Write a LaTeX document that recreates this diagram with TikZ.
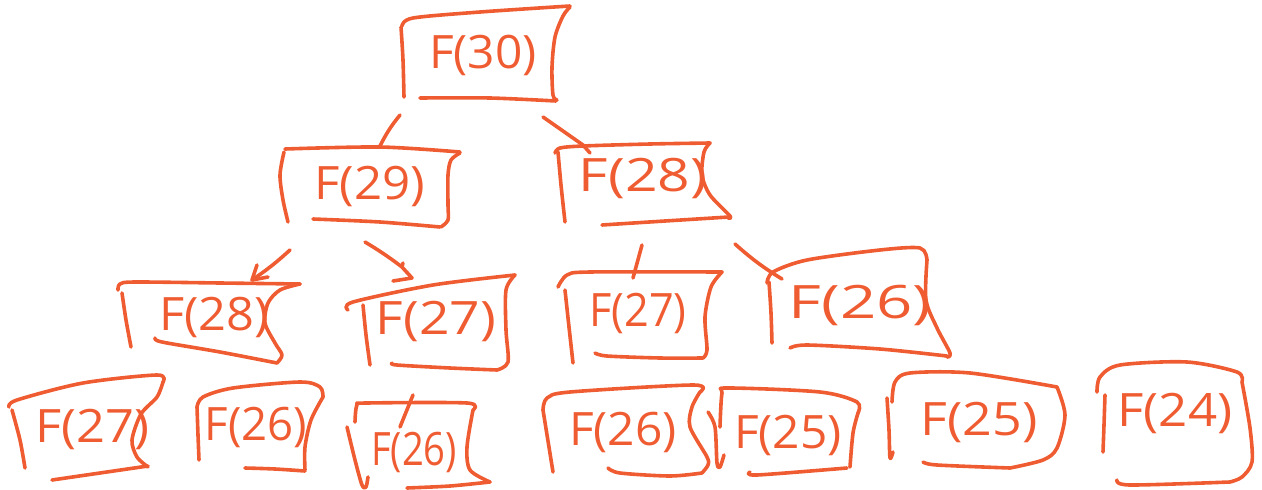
\documentclass[tikz,border=0pt]{standalone}
\usepackage{fontspec}
\usepackage{graphicx}
\setmainfont{Open Sans}
\definecolor{ink}{RGB}{240,92,50}
\begin{document}
\begin{tikzpicture}[x=1pt,y=-1pt,
  pen/.style={draw=ink,line width=3.6pt,line cap=round,line join=round},
  lbl/.style={text=ink,font=\fontsize{46}{54}\selectfont,inner sep=0pt}]
\useasboundingbox (0,0) rectangle (1262,490);

% ---------- labels ----------
\node[lbl] (t1)  at (483,55)  {\scalebox{1.04}[1]{F(30)}};
\node[lbl] (t2a) at (370,186) {\scalebox{1.07}[1]{F(29)}};
\node[lbl] (t2b) at (643,178) {\scalebox{1.24}[1]{F(28)}};
\node[lbl] (t3a) at (214,317) {\scalebox{1.06}[1]{F(28)}};
\node[lbl] (t3b) at (436,321) {\scalebox{1.16}[1]{F(27)}};
\node[lbl] (t3c) at (638,313) {\scalebox{0.94}[1]{F(27)}};
\node[lbl] (t3d) at (860,305) {\scalebox{1.38}[1]{F(26)}};
\node[lbl] (t4a) at (92,429)  {\scalebox{1.10}[1]{F(27)}};
\node[lbl] (t4b) at (256,427) {\scalebox{0.99}[1]{F(26)}};
\node[lbl] (t4c) at (414,452) {\scalebox{0.83}[1]{F(26)}};
\node[lbl] (t4d) at (623,432) {\scalebox{1.04}[1]{F(26)}};
\node[lbl] (t4e) at (788,435) {\scalebox{1.04}[1]{F(25)}};
\node[lbl] (t4f) at (979,422) {\scalebox{1.13}[1]{F(25)}};
\node[lbl] (t4g) at (1175,413){\scalebox{1.11}[1]{F(24)}};

% ---------- boxes, one pen stroke per side ----------
% F(30)
\draw[pen] plot[smooth] coordinates {(401,27) (403,60) (404,97)};
\draw[pen] plot[smooth] coordinates {(402,26) (413,18) (480,12) (570,6)};
\draw[pen] plot[smooth] coordinates {(570,7) (563,16) (555,37) (552,67) (553,95) (557,100)};
\draw[pen] plot[smooth] coordinates {(420,98) (490,98) (556,101)};
% F(29)
\draw[pen] plot[smooth] coordinates {(284,152) (280,175) (283,200) (288,222)};
\draw[pen] plot[smooth] coordinates {(285,149) (380,147) (460,152)};
\draw[pen] plot[smooth] coordinates {(460,153) (451,160) (448,175) (448,205) (448,220) (441,227)};
\draw[pen] plot[smooth] coordinates {(313,219) (380,222) (440,227)};
% F(28)
\draw[pen] plot[smooth] coordinates {(558,152) (561,185) (565,222)};
\draw[pen] plot[smooth] coordinates {(555,153) (560,148) (583,146) (650,144) (710,143)};
\draw[pen] plot[smooth] coordinates {(710,143) (704,152) (702,175) (710,195) (730,216) (728,218)};
\draw[pen] plot[smooth] coordinates {(602,225) (665,221) (729,217)};
% F(28), second row
\draw[pen] plot[smooth] coordinates {(118,290) (120,284) (135,282) (220,283) (300,284)};
\draw[pen] plot[smooth] coordinates {(122,293) (126,320) (131,347)};
\draw[pen] plot[smooth] coordinates {(300,284) (280,290) (268,303) (265,323) (275,343) (282,355) (277,363)};
\draw[pen] plot[smooth] coordinates {(155,338) (162,342) (220,352) (277,363)};
% F(27), second row
\draw[pen] plot[smooth] coordinates {(348,310) (353,302) (433,285) (515,275)};
\draw[pen] plot[smooth] coordinates {(363,305) (366,335) (370,365)};
\draw[pen] plot[smooth] coordinates {(515,275) (506,290) (506,330) (508,362) (497,370)};
\draw[pen] plot[smooth] coordinates {(392,363) (397,365) (450,368) (497,370)};
% F(27), second row
\draw[pen] plot[smooth] coordinates {(558,287) (567,275) (590,272) (722,272)};
\draw[pen] plot[smooth] coordinates {(565,290) (569,327) (573,363)};
\draw[pen] plot[smooth] coordinates {(722,272) (711,287) (705,317) (707,350) (703,358)};
\draw[pen] plot[smooth] coordinates {(595,353) (607,356) (660,358) (703,358)};
% F(26), second row
\draw[pen] plot[smooth] coordinates {(767,283) (773,272) (807,260) (880,250) (920,248) (927,260)};
\draw[pen] plot[smooth] coordinates {(769,282) (771,313) (772,343)};
\draw[pen] plot[smooth] coordinates {(927,260) (926,300) (937,328) (950,353) (947,357)};
\draw[pen] plot[smooth] coordinates {(790,348) (807,345) (880,349) (947,356)};
% F(27), bottom row
\draw[pen] plot[smooth] coordinates {(9,407) (17,400) (83,383) (157,375) (163,382)};
\draw[pen] plot[smooth] coordinates {(163,382) (157,397) (141,414) (132,440) (137,457) (148,467)};
\draw[pen] plot[smooth] coordinates {(52,480) (100,473) (148,466)};
\draw[pen] plot[smooth] coordinates {(12,410) (20,440) (25,468)};
% F(26), bottom row
\draw[pen] plot[smooth] coordinates {(197,407) (203,397) (233,388) (300,382) (320,387) (323,397)};
\draw[pen] plot[smooth] coordinates {(323,397) (311,420) (305,447) (305,470)};
\draw[pen] plot[smooth] coordinates {(245,468) (275,469) (305,471)};
\draw[pen] plot[smooth] coordinates {(197,407) (198,435) (199,460)};
% F(26), bottom row
\draw[pen] plot[smooth] coordinates {(355,422) (357,405) (367,403) (467,403) (473,410)};
\draw[pen] plot[smooth] coordinates {(473,410) (467,447) (470,470) (490,482)};
\draw[pen] plot[smooth] coordinates {(407,488) (450,486) (490,482)};
\draw[pen] plot[smooth] coordinates {(347,427) (355,460) (362,485) (366,487) (368,477)};
% F(26), bottom row
\draw[pen] plot[smooth] coordinates {(543,410) (547,398) (570,392) (693,385) (700,392)};
\draw[pen] plot[smooth] coordinates {(700,392) (692,407) (690,427) (707,457) (708,465) (702,473)};
\draw[pen] plot[smooth] coordinates {(608,468) (620,473) (670,476) (702,473)};
\draw[pen] plot[smooth] coordinates {(543,410) (548,441) (553,472)};
% F(25), bottom row
\draw[pen] plot[smooth] coordinates {(708,412) (715,427) (717,463) (720,467) (724,455)};
\draw[pen] plot[smooth] coordinates {(720,427) (722,393) (728,388) (820,392) (857,402) (858,413)};
\draw[pen] plot[smooth] coordinates {(858,413) (853,433) (850,467)};
\draw[pen] plot[smooth] coordinates {(750,472) (757,475) (847,468)};
% F(25), bottom row
\draw[pen] plot[smooth] coordinates {(887,398) (889,430) (890,458) (893,452)};
\draw[pen] plot[smooth] coordinates {(892,402) (895,382) (910,373) (970,373) (1057,387)};
\draw[pen] plot[smooth] coordinates {(1057,387) (1065,415) (1057,448) (1043,460) (1010,468)};
\draw[pen] plot[smooth] coordinates {(923,462) (937,465) (1010,468)};
% F(24), bottom row
\draw[pen] plot[smooth] coordinates {(1105,395) (1104,425) (1103,452)};
\draw[pen] plot[smooth] coordinates {(1097,392) (1100,377) (1120,365) (1187,362) (1237,372) (1242,382)};
\draw[pen] plot[smooth] coordinates {(1242,382) (1250,428) (1252,462) (1242,477) (1230,482)};
\draw[pen] plot[smooth] coordinates {(1117,480) (1130,485) (1230,482)};

% ---------- connectors ----------
\coordinate (e1s) at (400,115); \coordinate (e1t) at (380,146);
\coordinate (e2s) at (543,117); \coordinate (e2m) at (583,145); \coordinate (e2t) at (590,153);
\coordinate (e3s) at (290,250); \coordinate (e3t) at (252,280);
\coordinate (e3b1) at (257,265); \coordinate (e3b2) at (268,277);
\coordinate (e4s) at (365,242); \coordinate (e4m) at (402,267); \coordinate (e4t) at (412,278);
\coordinate (e4b1) at (403,263); \coordinate (e4b2) at (393,281);
\coordinate (e5s) at (642,245); \coordinate (e5t) at (633,278);
\coordinate (e6s) at (735,244); \coordinate (e6t) at (782,279);
\coordinate (e7s) at (413,395); \coordinate (e7t) at (400,427);

\draw[pen] (e1s) to[bend right=6] (e1t);
\draw[pen] (e2s) -- (e2m) -- (e2t);
\draw[pen] (e3s) to[bend left=4] (e3t);
\draw[pen] (e3b1) -- (e3t) -- (e3b2);
\draw[pen] (e4s) to[bend left=3] (e4m) -- (e4t);
\draw[pen] (e4b1) -- (e4m);
\draw[pen] (e4b2) -- (e4t);
\draw[pen] (e5s) -- (e5t);
\draw[pen] (e6s) to[bend right=5] (e6t);
\draw[pen] (e7s) -- (e7t);
\end{tikzpicture}
\end{document}
